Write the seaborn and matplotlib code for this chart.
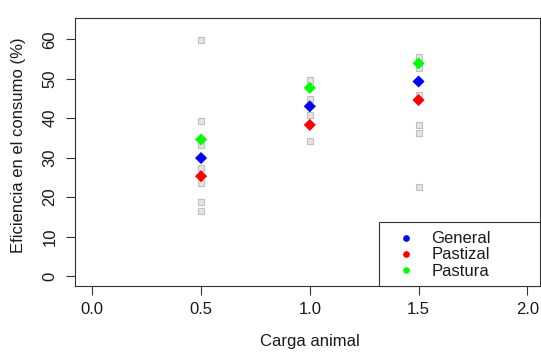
import numpy as np
import pandas as pd
import matplotlib
matplotlib.use("Agg")
import matplotlib.pyplot as plt
from matplotlib.patches import Rectangle
import seaborn as sns

# ---- data ----
raw_x = [0.5, 0.5, 0.5, 0.5, 0.5, 0.5, 0.5,
         1.0, 1.0, 1.0, 1.0,
         1.5, 1.5, 1.5, 1.5, 1.5, 1.5]
raw_y = [59.7, 39.3, 33.1, 27.5, 23.7, 18.8, 16.6,
         49.6, 44.8, 40.8, 34.3,
         55.6, 52.6, 45.9, 38.3, 36.2, 22.6]

carga = [0.5, 1.0, 1.5]
general = [29.9, 43.0, 49.3]
pastizal = [25.3, 38.3, 44.6]
pastura = [34.6, 47.7, 53.9]

series_names = ["General", "Pastizal", "Pastura"]
series_colors = ["#0000FF", "#FF0000", "#00FF00"]

x_ticks = [0.0, 0.5, 1.0, 1.5, 2.0]
y_ticks = [0, 10, 20, 30, 40, 50, 60]

raw_df = pd.DataFrame({"x": raw_x, "y": raw_y})
mean_df = pd.DataFrame({
    "x": carga * 3,
    "y": general + pastizal + pastura,
    "serie": [s for s in series_names for _ in carga],
})

# ---- figure ----
sns.set_style("white")
plt.rcParams["font.family"] = ["Liberation Sans", "DejaVu Sans"]
FS = 12
TXT = "#1a1a1a"
LINE = "#333333"

W, H = 541, 356
fig = plt.figure(figsize=(W / 100, H / 100), dpi=100)
L, R, T, B = 75, 540, 18.3, 286
AW, AH = R - L, B - T
ax = fig.add_axes([L / W, (H - B) / H, AW / W, AH / H])

sns.scatterplot(data=raw_df, x="x", y="y", ax=ax, marker="s", s=13,
                color="#e4e4e4", edgecolor="#c0c0c0", linewidth=0.8,
                legend=False, zorder=2)
sns.scatterplot(data=mean_df, x="x", y="y", hue="serie",
                hue_order=series_names, palette=series_colors,
                ax=ax, marker="D", s=38, linewidth=0, legend=False, zorder=3)

px_per_unit = 108.7 / 0.5
ax.set_xlim(-17.3 / px_per_unit, 2 + 12.7 / px_per_unit)
ax.set_ylim(-2.53, 65.32)
ax.set_xticks(x_ticks)
ax.set_xticklabels([f"{v:.1f}" for v in x_ticks], fontsize=FS)
ax.set_yticks(y_ticks)
ax.set_yticklabels([str(v) for v in y_ticks], fontsize=FS, rotation=90,
                   va="center", ha="center")
ax.tick_params(axis="both", direction="out", length=6.5, width=0.8,
               color=LINE, labelcolor=TXT, bottom=True, left=True)
for sp in ax.spines.values():
    sp.set_visible(True)
    sp.set_color(LINE)
    sp.set_linewidth(0.8)

ax.set_xlabel("Carga animal", fontsize=FS, color=TXT, va="center")
ax.xaxis.set_label_coords((310 - L) / AW, (B - 341.7) / AH)
ax.set_ylabel("Eficiencia en el consumo (%)", fontsize=FS, color=TXT,
              va="center")
ax.yaxis.set_label_coords((19 - L) / AW, (B - 145) / AH)

# place tick labels: measure and adjust pads so centres sit where the reference has them
fig.canvas.draw()
r = fig.canvas.get_renderer()
yl = ax.get_yticklabels()[0].get_window_extent(r)
xl = ax.get_xticklabels()[0].get_window_extent(r)
ycx = (yl.x0 + yl.x1) / 2          # px from left
xcy = H - (xl.y0 + xl.y1) / 2      # px from top
ypad = ax.yaxis.get_major_ticks()[0].get_pad()
xpad = ax.xaxis.get_major_ticks()[0].get_pad()
ax.tick_params(axis="y", pad=ypad + (ycx - 50) * 0.72)
ax.tick_params(axis="x", pad=xpad + (310 - xcy) * 0.72)

# ---- legend (R-style box) ----
def ax_xy(px, py):
    return (px - L) / AW, (B - py) / AH

x0, y0 = ax_xy(379, 286)
x1, y1 = ax_xy(540, 222)
ax.add_patch(Rectangle((x0, y0), x1 - x0, y1 - y0, transform=ax.transAxes,
                       facecolor="white", edgecolor=LINE, linewidth=0.8,
                       zorder=5, clip_on=False))
rows = [237.5, 253.5, 270]
for name, col, ry in zip(series_names, series_colors, rows):
    mx, my = ax_xy(406, ry)
    ax.plot([mx], [my], marker="o", markersize=3.8, color=col,
            linestyle="none", transform=ax.transAxes, zorder=6, clip_on=False)
    tx, ty = ax_xy(431.5, ry + 1.0)
    ax.text(tx, ty, name, transform=ax.transAxes, fontsize=FS, color=TXT,
            va="center", ha="left", zorder=6)

fig.savefig("out.png", dpi=100)
